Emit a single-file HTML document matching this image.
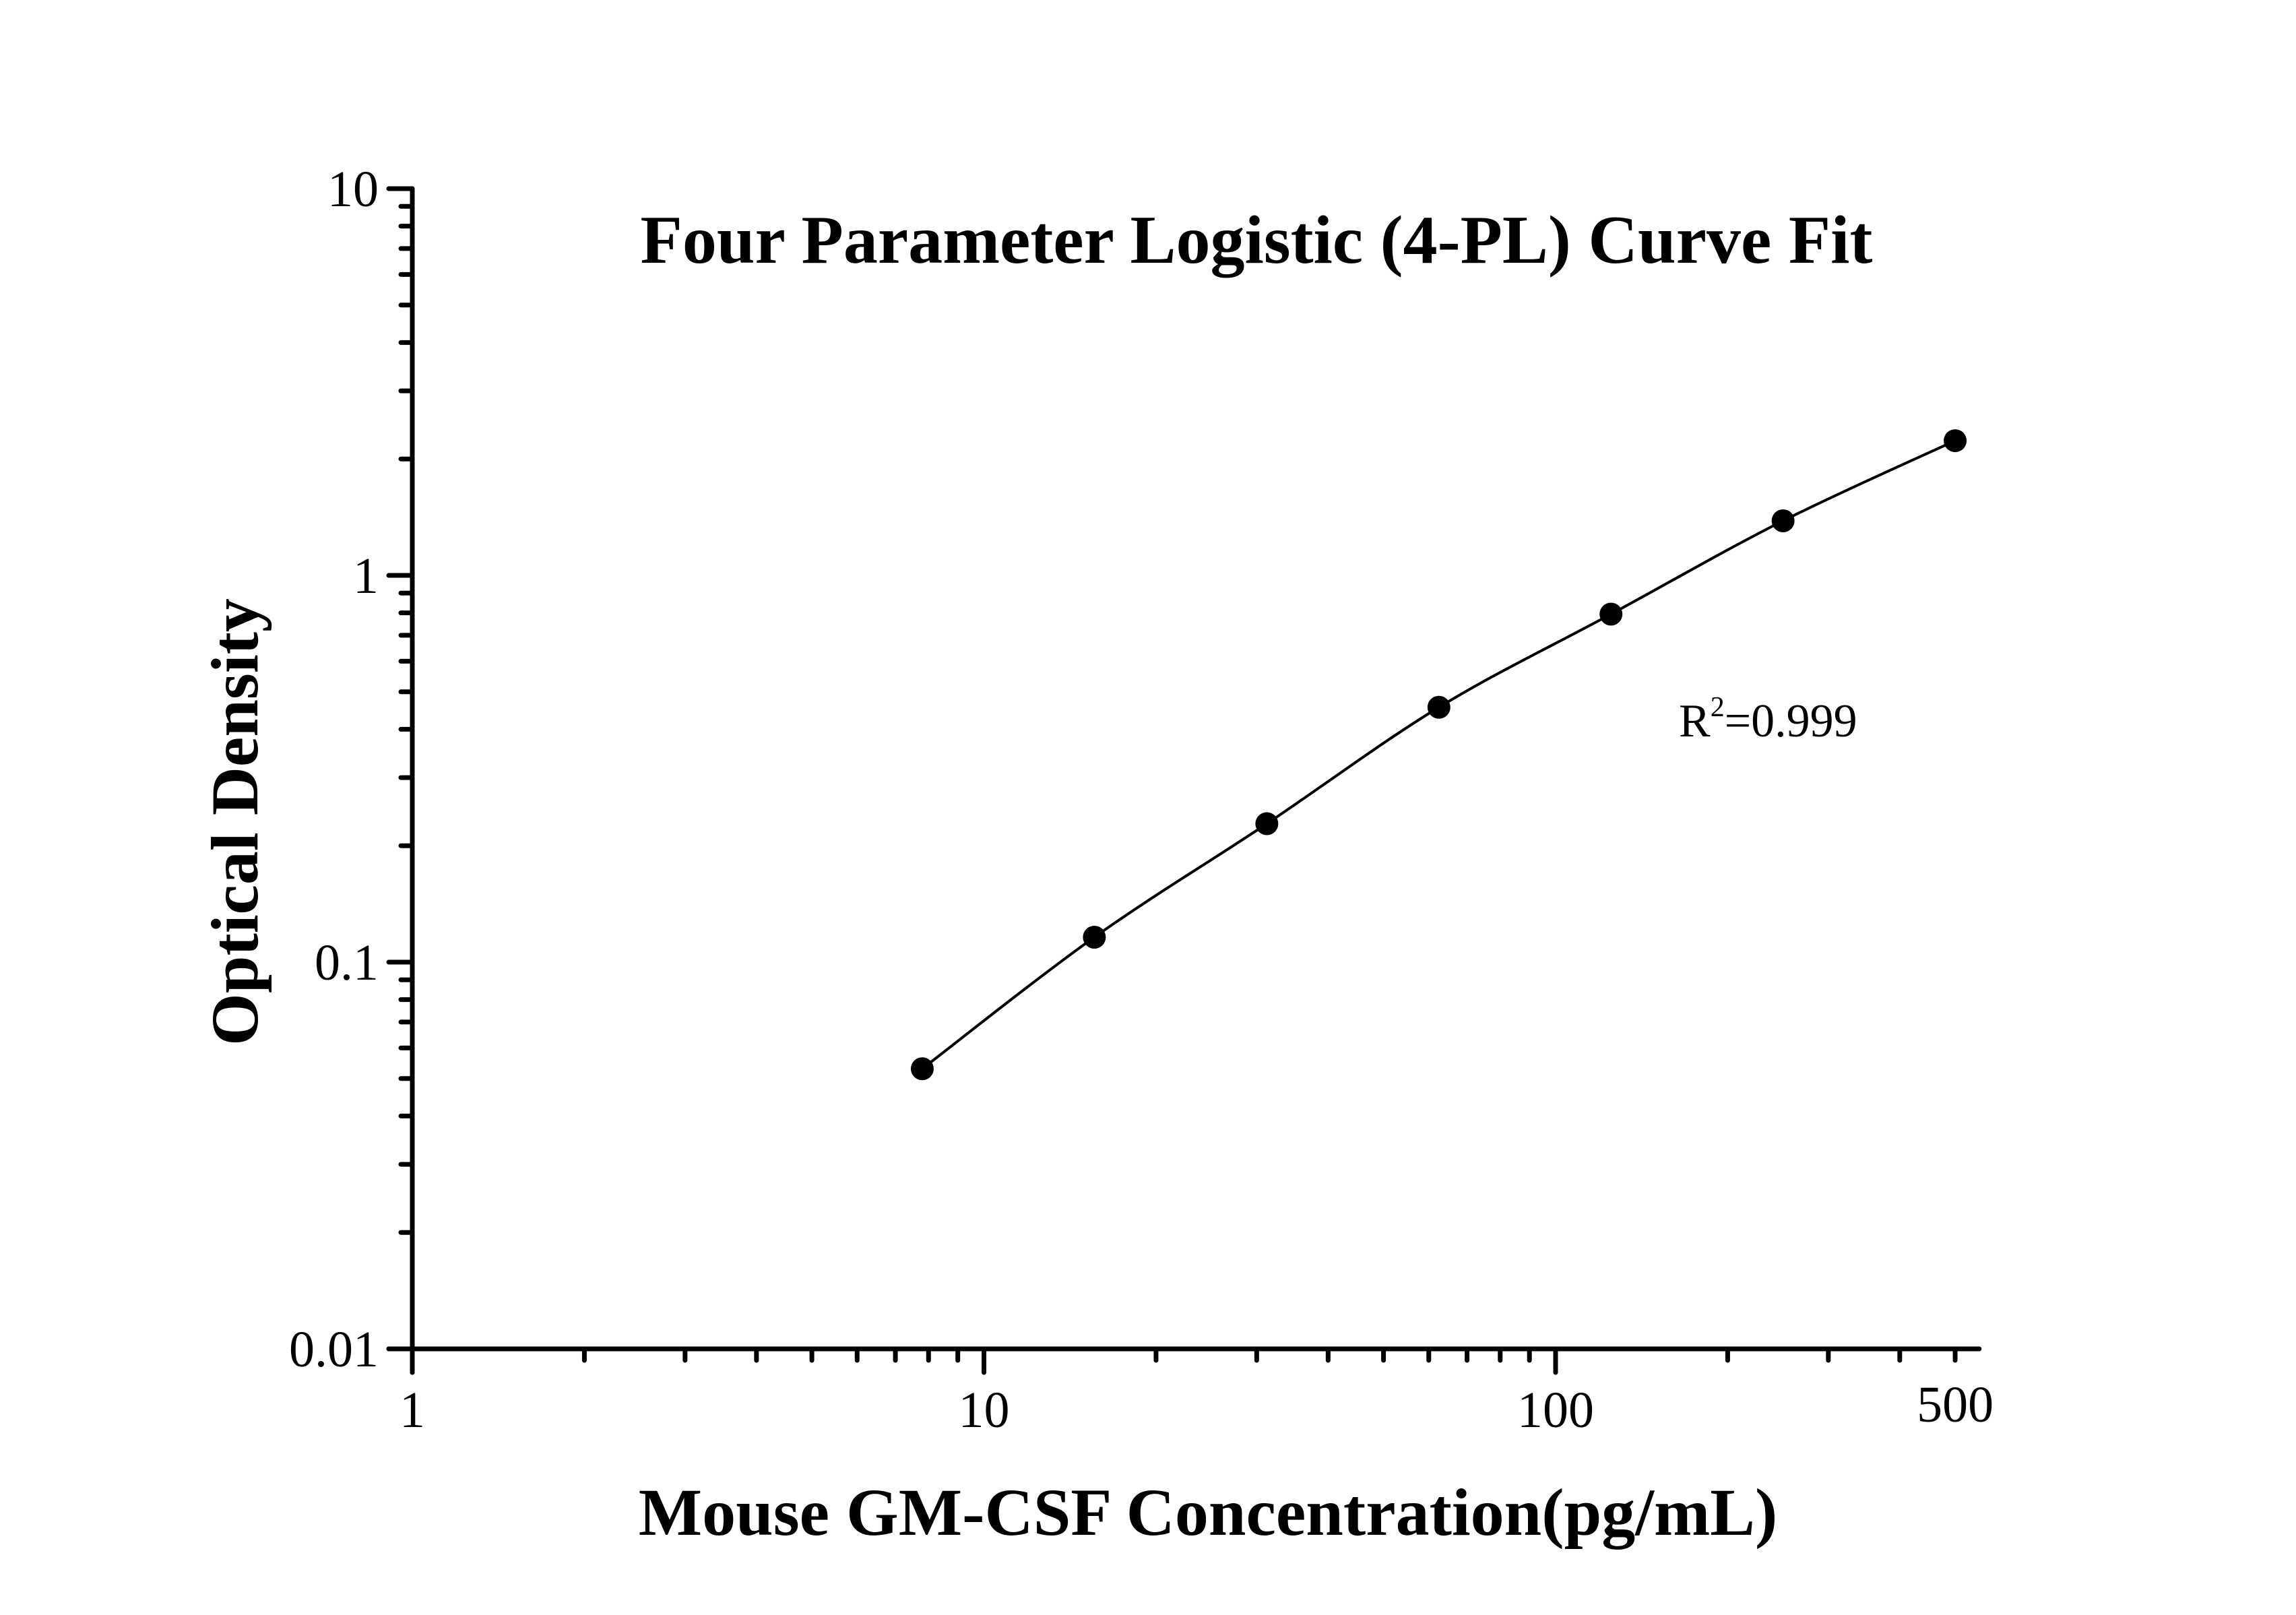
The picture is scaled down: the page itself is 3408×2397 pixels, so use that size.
<!DOCTYPE html>
<html><head><meta charset="utf-8"><style>
html,body{margin:0;padding:0;background:#fff}
svg{display:block}
text{font-family:"Liberation Serif",serif;fill:#000}
</style></head><body>
<svg id="chart" width="3408" height="2397" viewBox="0 0 3408 2397" xmlns="http://www.w3.org/2000/svg">
<text x="1865" y="390" font-size="102" font-weight="bold" text-anchor="middle">Four Parameter Logistic (4-PL) Curve Fit</text>
<text x="1793" y="2278" font-size="100" font-weight="bold" text-anchor="middle">Mouse GM-CSF Concentration(pg/mL)</text>
<text transform="translate(382,1220) rotate(-90)" font-size="100" font-weight="bold" text-anchor="middle">Optical Density</text>
<text x="2492" y="1093" font-size="70">R<tspan dy="-30" font-size="42">2</tspan><tspan dy="30">=0.999</tspan></text>
<g id="axes"></g>
<g id="marks"></g>
</svg>
<script>
const xTicks = [1, 10, 100, 500];
const xTickLabels = ["1", "10", "100", "500"];
const yTicks = [0.01, 0.1, 1, 10];
const yTickLabels = ["0.01", "0.1", "1", "10"];
const concentrations = [7.8, 15.6, 31.25, 62.5, 125, 250, 500];
const odValues = [0.053, 0.116, 0.228, 0.456, 0.794, 1.384, 2.23];

const NS = "http://www.w3.org/2000/svg";
const X0 = 612, XDEC = 848.5, XMAX = 551;
const Y0 = 280, YDEC = 574, YBOT = 2002;
function xs(v){ return X0 + Math.log10(v) * XDEC; }
function ys(v){ return Y0 + (1 - Math.log10(v)) * YDEC; }
function mk(tag, attrs, parent){
  const e = document.createElementNS(NS, tag);
  for (const k in attrs) e.setAttribute(k, attrs[k]);
  parent.appendChild(e);
  return e;
}
const axes = document.getElementById('axes');
const marks = document.getElementById('marks');
const st = {stroke:'#000','stroke-width':7,'stroke-linecap':'round'};

const yAxis = mk('line', Object.assign({x1:X0,y1:Y0,x2:X0,y2:YBOT+35}, st), axes);


const xAxis = mk('line', Object.assign({x1:X0-35,y1:YBOT,x2:xs(XMAX),y2:YBOT}, st), axes);



// y ticks
for (let d = -2; d < 1; d++) {
  for (let m = 2; m <= 9; m++) {
    const y = ys(m * Math.pow(10, d));
    const t = mk('line', Object.assign({x1:X0-17,y1:y,x2:X0,y2:y}, st), axes);
    
    
  }
}
yTicks.forEach((v, i) => {
  const y = ys(v);
  const t = mk('line', Object.assign({x1:X0-35,y1:y,x2:X0,y2:y}, st), axes);
  
  
  const l = mk('text', {x:X0-50, y:y+26, 'font-size':76, 'text-anchor':'end'}, axes);
  l.textContent = yTickLabels[i];
  
  
});
// x ticks
for (let d = 0; d < 3; d++) {
  for (let m = 2; m <= 9; m++) {
    const v = m * Math.pow(10, d);
    if (v > XMAX) continue;
    if (xTicks.indexOf(v) >= 0) continue;
    const x = xs(v);
    const t = mk('line', Object.assign({x1:x,y1:YBOT,x2:x,y2:YBOT+17}, st), axes);
    
    
  }
}
xTicks.forEach((v, i) => {
  const x = xs(v);
  const major = (v === 1 || v === 10 || v === 100);
  const t = mk('line', Object.assign({x1:x,y1:YBOT,x2:x,y2:YBOT+(major?35:17)}, st), axes);
  
  
  const l = mk('text', {x:x, y: major ? 2118 : 2110, 'font-size':76, 'text-anchor':'middle'}, axes);
  l.textContent = xTickLabels[i];
  
  
});

// fitted curve: smooth Catmull-Rom through points in screen space
const pts = concentrations.map((c, i) => [xs(c), ys(odValues[i])]);
let d = 'M' + pts[0][0] + ',' + pts[0][1];
for (let i = 0; i < pts.length - 1; i++) {
  const p0 = pts[Math.max(0, i-1)], p1 = pts[i], p2 = pts[i+1], p3 = pts[Math.min(pts.length-1, i+2)];
  const c1x = p1[0] + (p2[0]-p0[0])/6, c1y = p1[1] + (p2[1]-p0[1])/6;
  const c2x = p2[0] - (p3[0]-p1[0])/6, c2y = p2[1] - (p3[1]-p1[1])/6;
  d += ' C' + c1x + ',' + c1y + ' ' + c2x + ',' + c2y + ' ' + p2[0] + ',' + p2[1];
}
const curve = mk('path', {d:d, fill:'none', stroke:'#000', 'stroke-width':4}, marks);



concentrations.forEach((c, i) => {
  const p = mk('circle', {cx:xs(c), cy:ys(odValues[i]), r:17, fill:'#000'}, marks);
  
  
});
</script>
</body></html>
